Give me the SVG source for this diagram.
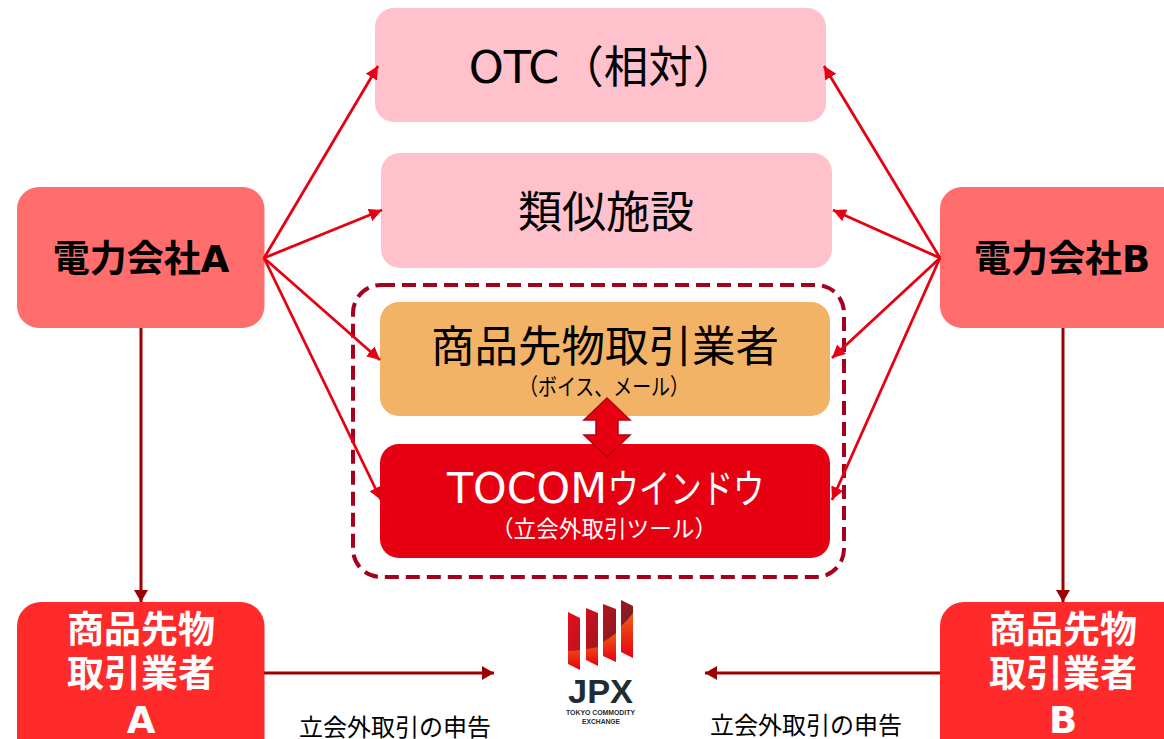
<svg xmlns="http://www.w3.org/2000/svg" width="1164" height="739" viewBox="0 0 1164 739">
<style>
text{font-family:"DejaVu Sans","Noto Sans CJK JP",sans-serif;text-anchor:middle}
.j{font-family:"Noto Sans CJK JP","DejaVu Sans",sans-serif}
.l{font-family:"Liberation Sans",sans-serif;font-weight:700;fill:#1e2d32}
.b{font-weight:700}
.w{fill:#fff}
.k{fill:#000}
.r{stroke:#e60012;stroke-width:2.8;fill:none;marker-end:url(#ar)}
.d{stroke:#9c0000;stroke-width:3;fill:none;marker-end:url(#ad)}
.bar{fill:url(#lo)}
.top{fill:url(#dk)}
</style>
<defs>
<marker id="ar" markerUnits="userSpaceOnUse" markerWidth="16" markerHeight="16" refX="13" refY="8" orient="auto"><path d="M0 1.500L13 8L0 14.500Z" fill="#e60012"/></marker>
<marker id="ad" markerUnits="userSpaceOnUse" markerWidth="16" markerHeight="16" refX="12" refY="8" orient="auto"><path d="M0 1L12 8L0 15Z" fill="#9c0000"/></marker>
<linearGradient id="lo" x1="0" y1="0" x2="0" y2="1"><stop offset="0" stop-color="#f06414"/><stop offset="1" stop-color="#e60012"/></linearGradient>
<linearGradient id="dk" gradientUnits="userSpaceOnUse" x1="568" y1="615" x2="625" y2="640"><stop offset="0" stop-color="#e60e1c"/><stop offset="1" stop-color="#7c1c24"/></linearGradient>
</defs>
<rect width="1164" height="739" fill="#fff"/>
<g id="otc"><rect x="375" y="8" width="451" height="114" rx="19" fill="#ffc1cb"/><text x="603" y="83" font-size="44.500" class="k">OTC<tspan class="j">（相対）</tspan></text></g>
<g id="similar"><rect x="381" y="153" width="451" height="115" rx="19" fill="#ffc1cb"/><text x="606" y="228" font-size="44" class="j k">類似施設</text></g>
<g id="group"><rect x="353" y="285" width="491" height="292" rx="28" fill="none" stroke="#a5001e" stroke-width="4" stroke-dasharray="14 7"/></g>
<g id="broker"><rect x="380" y="302" width="450" height="114" rx="19" fill="#f2b366"/><text x="605" y="362" font-size="43.500" class="j k">商品先物取引業者</text><text x="604" y="395" font-size="23" class="j k" textLength="170" lengthAdjust="spacingAndGlyphs">（ボイス、メール）</text></g>
<g id="tocom"><rect x="380" y="444" width="450" height="114" rx="19" fill="#e60012"/><text x="527" y="503" font-size="43" class="w" textLength="160" lengthAdjust="spacingAndGlyphs">TOCOM</text><text x="686" y="503" font-size="40" class="j w" textLength="157" lengthAdjust="spacingAndGlyphs">ウインドウ</text><text x="604" y="537" font-size="23" class="j w" textLength="226" lengthAdjust="spacingAndGlyphs">（立会外取引ツール）</text></g>
<g id="both"><path d="M607 398L630 420H618V435H630L607 457L584 435H596V420H584Z" fill="#e60012" stroke="#b5000e" stroke-width="1.500"/></g>
<g id="companyA"><rect x="17" y="187" width="247.500" height="141" rx="22" fill="#ff6d6d"/><text x="141" y="272" font-size="37" class="b k">電力会社A</text></g>
<g id="companyB"><rect x="940" y="187" width="260" height="141" rx="22" fill="#ff6d6d"/><text x="1062" y="272" font-size="37" class="b k">電力会社B</text></g>
<g id="traderA"><rect x="17" y="602" width="247.500" height="160" rx="24" fill="#ff2b2b"/><text class="j b w" font-size="37"><tspan x="141" y="643">商品先物</tspan><tspan x="141" y="687">取引業者</tspan></text><text x="141" y="733" font-size="37" class="b w">A</text></g>
<g id="traderB"><rect x="940" y="602" width="260" height="160" rx="24" fill="#ff2b2b"/><text class="j b w" font-size="37"><tspan x="1063" y="643">商品先物</tspan><tspan x="1063" y="687">取引業者</tspan></text><text x="1063" y="733" font-size="37" class="b w">B</text></g>
<g id="jpx">
<path class="bar" d="M568 640L580 640V670L568 664Z"/><path class="bar" d="M586 640L598 640V666L586 660Z"/><path class="bar" d="M603 630L616 630V662L603 656Z"/><path class="bar" d="M621 610L633 610V658L621 652Z"/>
<path class="top" d="M568 612L580 618V650Q574 651 568 651Z"/><path class="top" d="M586 608L598 613V647Q592 648.500 586 649Z"/><path class="top" d="M603 604L616 609V633Q610 638 603 642Z"/><path class="top" d="M621 600L633 606V613Q628 620 621 626Z"/>
<text x="600.500" y="703" font-size="34" class="l" textLength="65" lengthAdjust="spacingAndGlyphs">JPX</text>
<text x="600.500" y="715" font-size="8" class="l" textLength="69" lengthAdjust="spacingAndGlyphs">TOKYO COMMODITY</text>
<text x="601" y="724" font-size="8" class="l" textLength="38" lengthAdjust="spacingAndGlyphs">EXCHANGE</text>
</g>
<text x="395" y="736" font-size="24" class="j k">立会外取引の申告</text>
<text x="806" y="734" font-size="24" class="j k">立会外取引の申告</text>
<g id="connectors">
<path class="r" d="M264 258L378 66"/><path class="r" d="M264 258L382 210"/><path class="r" d="M264 258L380 360"/><path class="r" d="M264 258L381 500"/>
<path class="r" d="M940 258L824 66"/><path class="r" d="M940 258L833 210"/><path class="r" d="M940 258L832 358"/><path class="r" d="M940 258L832 500"/>
<path class="d" d="M141 328V602"/><path class="d" d="M1063 328V602"/><path class="d" d="M264 673H494"/><path class="d" d="M940 673H705"/>
</g>
</svg>
